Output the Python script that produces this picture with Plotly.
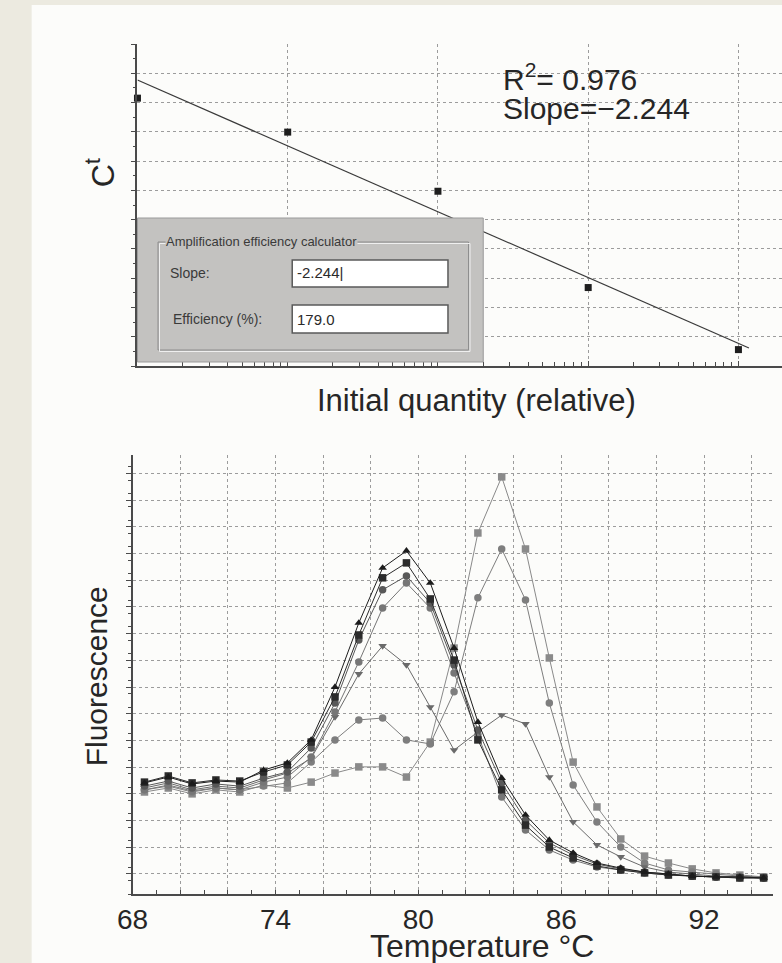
import numpy as np
import plotly.graph_objects as go

W, H = 782, 963

# ---------------- Top panel: standard curve ----------------
quantity = [1, 10, 100, 1000, 10000]
ct_values = [24.15, 22.99, 20.97, 17.68, 15.56]
r2_text = "R<sup>2</sup>= 0.976"
slope_text = "Slope=\u22122.244"
calc_title = "Amplification efficiency calculator"
calc_slope_label = "Slope:"
calc_eff_label = "Efficiency (%):"
calc_slope_value = "-2.244|"
calc_eff_value = "179.0"

# ---------------- Bottom panel: melt curves ----------------
temperature = [68.5, 69.5, 70.5, 71.5, 72.5, 73.5, 74.5, 75.5, 76.5, 77.5, 78.5,
               79.5, 80.5, 81.5, 82.5, 83.5, 84.5, 85.5, 86.5, 87.5, 88.5, 89.5,
               90.5, 91.5, 92.5, 93.5, 94.5]
s1_tri_up = [4.16, 4.38, 4.12, 4.23, 4.19, 4.64, 4.91, 5.77, 7.75, 10.15, 12.21, 12.85, 11.65,
             9.21, 6.44, 4.34, 2.96, 2.02, 1.54, 1.16, 0.97, 0.82, 0.75, 0.67, 0.64, 0.64, 0.60]
s2_square = [4.19, 4.42, 4.16, 4.27, 4.23, 4.57, 4.83, 5.69, 7.38, 9.70, 11.84, 12.40, 11.05,
             8.76, 5.77, 3.90, 2.58, 1.76, 1.35, 1.05, 0.90, 0.79, 0.71, 0.67, 0.64, 0.60, 0.60]
s3_circle = [4.04, 4.23, 3.97, 4.12, 4.04, 4.34, 4.57, 5.47, 7.15, 9.51, 11.39, 11.91, 10.90,
             8.58, 6.14, 4.16, 2.77, 1.91, 1.46, 1.12, 0.94, 0.82, 0.75, 0.67, 0.64, 0.64, 0.60]
s4_circle = [3.90, 4.08, 3.86, 3.97, 3.90, 4.19, 4.38, 5.13, 6.82, 8.69, 10.71, 11.65, 10.71,
             8.28, 5.96, 3.63, 2.40, 1.65, 1.27, 1.01, 0.90, 0.79, 0.71, 0.67, 0.64, 0.60, 0.60]
s5_tri_down = [3.97, 4.16, 3.90, 4.04, 3.97, 4.27, 4.53, 5.09, 6.63, 8.24, 9.29, 8.58, 7.00,
               5.39, 6.07, 6.70, 6.37, 4.38, 2.70, 1.84, 1.39, 1.01, 0.82, 0.75, 0.67, 0.64, 0.60]
s6_circle = [3.90, 4.04, 3.82, 3.97, 3.90, 4.04, 4.16, 4.94, 5.77, 6.52, 6.59, 5.77, 5.62,
             7.57, 11.09, 12.92, 11.01, 7.15, 4.08, 2.70, 1.76, 1.16, 0.90, 0.82, 0.75, 0.67, 0.64]
s7_square = [3.82, 3.97, 3.75, 3.90, 3.82, 4.08, 3.97, 4.19, 4.53, 4.76, 4.76, 4.38, 5.69,
             9.21, 13.52, 15.62, 12.92, 8.84, 4.94, 3.26, 2.06, 1.42, 1.16, 0.94, 0.79, 0.71, 0.64]
temp_tick_values = [68, 74, 80, 86, 92]
temp_tick_text = ["68", "74", "80", "86", "92"]
x_title_bottom = "Temperature \u00b0C"
y_title_bottom = "Fluorescence"
x_title_top = "Initial quantity (relative)"
y_title_top = "C<sup>t</sup>"

FONT = "Liberation Sans, Arial, sans-serif"
TXT = "#262626"
GRID = "#9c9c9c"
AX = "#4a4a4a"
BEIGE = "#ECEAE0"


def fx(px):
    return px / W


def fy(py):
    return 1 - py / H


fig = go.Figure()

# top panel traces
logq = np.log10(quantity)
slope, intercept = np.polyfit(logq, ct_values, 1)
fit_x = np.array([logq[0], logq[-1] + 0.07])
fig.add_trace(go.Scatter(x=10 ** fit_x, y=slope * fit_x + intercept, mode="lines",
                         line=dict(color="#3a3a3a", width=1.2), xaxis="x", yaxis="y",
                         showlegend=False, hoverinfo="skip"))
fig.add_trace(go.Scatter(x=quantity, y=ct_values, mode="markers",
                         marker=dict(symbol="square", size=7, color="#1e1e1e"),
                         xaxis="x", yaxis="y", showlegend=False, cliponaxis=False))

# bottom panel traces
series = [
    (s7_square, "square", "#8a8a8a", "x2"),
    (s6_circle, "circle", "#7e7e7e", "x2"),
    (s5_tri_down, "triangle-down", "#6a6a6a", "x2"),
    (s4_circle, "circle", "#767676", "x2"),
    (s3_circle, "circle", "#585858", "x2"),
    (s2_square, "square", "#2c2c2c", "x2"),
    (s1_tri_up, "triangle-up", "#1c1c1c", "x3"),
]
for vals, sym, col, xa in series:
    fig.add_trace(go.Scatter(x=temperature, y=vals, mode="lines+markers",
                             line=dict(color=col, width=1),
                             marker=dict(symbol=sym, size=7.5, color=col),
                             xaxis=xa, yaxis="y2", showlegend=False, cliponaxis=False))

grid_common = dict(showgrid=True, gridcolor=GRID, griddash="dot", gridwidth=1,
                   zeroline=False, showline=True, linecolor=AX, linewidth=1.5)

fig.update_layout(
    width=W, height=H,
    margin=dict(l=0, r=0, t=0, b=0),
    paper_bgcolor=BEIGE,
    plot_bgcolor="rgba(0,0,0,0)",
    font=dict(family=FONT, color=TXT),
    xaxis=dict(domain=[fx(124), 1.0], anchor="y", type="log", range=[0, 4.29],
               tickmode="linear", tick0=0, dtick=1, showticklabels=False,
               ticks="inside", ticklen=5, tickcolor=AX,
               minor=dict(ticks="inside", ticklen=4, dtick="D1", tickcolor=AX, showgrid=False),
               **grid_common),
    yaxis=dict(domain=[fy(366), fy(44)], anchor="x", range=[15, 26],
               tickmode="linear", tick0=15, dtick=1, showticklabels=False,
               ticks="outside", ticklen=5, tickcolor=AX,
               minor=dict(ticks="outside", ticklen=3, dtick=0.5, tickcolor=AX, showgrid=False),
               **grid_common),
    xaxis2=dict(domain=[fx(119), fx(773)], anchor="y2", range=[68, 94.9],
                tickmode="array", tickvals=temp_tick_values, ticktext=temp_tick_text,
                ticks="inside", ticklen=4, tickcolor=AX, showgrid=False,
                zeroline=False, showline=True, linecolor=AX, linewidth=1.5,
                tickfont=dict(size=28, color=TXT, family=FONT),
                minor=dict(ticks="inside", ticklen=4, dtick=1, tick0=68, tickcolor=AX, showgrid=False)),
    xaxis3=dict(overlaying="x2", anchor="y2", range=[68, 94.9], matches="x2",
                tickmode="linear", tick0=68, dtick=2, showticklabels=False, ticks="",
                showgrid=True, gridcolor=GRID, griddash="dot", gridwidth=1,
                zeroline=False, showline=False),
    yaxis2=dict(domain=[fy(894), fy(455)], anchor="x2", range=[0, 16.44],
                tickmode="linear", tick0=0.75, dtick=1, showticklabels=False,
                ticks="outside", ticklen=5, tickcolor=AX,
                minor=dict(ticks="outside", ticklen=3, dtick=0.5, tickcolor=AX, showgrid=False),
                **grid_common),
)

shapes = [
    # paper sheet
    dict(type="rect", xref="paper", yref="paper", x0=fx(16), x1=1, y0=0, y1=fy(5),
         fillcolor="#FCFCFA", line=dict(width=0), layer="below"),
    # dialog outer
    dict(type="rect", xref="paper", yref="paper", x0=fx(124), x1=fx(477), y0=fy(362), y1=fy(218),
         fillcolor="#C3C2C0", line=dict(color="#9a9a9a", width=1), layer="above"),
    # group box (dark + light edge)
    dict(type="rect", xref="paper", yref="paper", x0=fx(145), x1=fx(462), y0=fy(350), y1=fy(242),
         fillcolor="rgba(0,0,0,0)", line=dict(color="#8c8c8c", width=1), layer="above"),
    dict(type="rect", xref="paper", yref="paper", x0=fx(146.5), x1=fx(463.5), y0=fy(351.5), y1=fy(243.5),
         fillcolor="rgba(0,0,0,0)", line=dict(color="#EFEFEF", width=1), layer="above"),
    # edit boxes
    dict(type="rect", xref="paper", yref="paper", x0=fx(282), x1=fx(441), y0=fy(287), y1=fy(260),
         fillcolor="#FFFFFF", line=dict(color="#5a5a5a", width=1.5), layer="above"),
    dict(type="rect", xref="paper", yref="paper", x0=fx(282), x1=fx(441), y0=fy(333), y1=fy(305),
         fillcolor="#FFFFFF", line=dict(color="#5a5a5a", width=1.5), layer="above"),
]

annotations = []


def ann(text, x, y, size, xanchor="center", angle=0, bg=None, color=TXT):
    a = dict(text=text, x=fx(x), y=fy(y), xref="paper", yref="paper", showarrow=False,
             xanchor=xanchor, yanchor="middle", textangle=angle,
             font=dict(size=size, family=FONT, color=color))
    if bg:
        a["bgcolor"] = bg
        a["borderpad"] = 0
    annotations.append(a)


ann(r2_text, 495, 77, 30, xanchor="left")
ann(slope_text, 495, 108, 30, xanchor="left")
ann(y_title_top, 86, 172, 32, angle=-90)
ann(x_title_top, 470, 400, 31)
ann(y_title_bottom, 82, 676, 30, angle=-90)
ann(x_title_bottom, 476, 946, 32)
ann(calc_title, 152, 242, 13, xanchor="left", bg="#C3C2C0", color="#3a3a3a")
ann(calc_slope_label, 155, 273, 14, xanchor="left", color="#3a3a3a")
ann(calc_eff_label, 158, 319, 14, xanchor="left", color="#3a3a3a")
ann(calc_slope_value, 285, 273, 15, xanchor="left", color="#2a2a2a")
ann(calc_eff_value, 285, 319, 15, xanchor="left", color="#2a2a2a")

fig.update_layout(shapes=shapes, annotations=annotations)
fig.write_html(
    "out.html",
    config={"displayModeBar": False},
    post_script="document.body.style.margin='0';document.body.style.padding='0';"
                "document.body.style.background='" + BEIGE + "';",
)
